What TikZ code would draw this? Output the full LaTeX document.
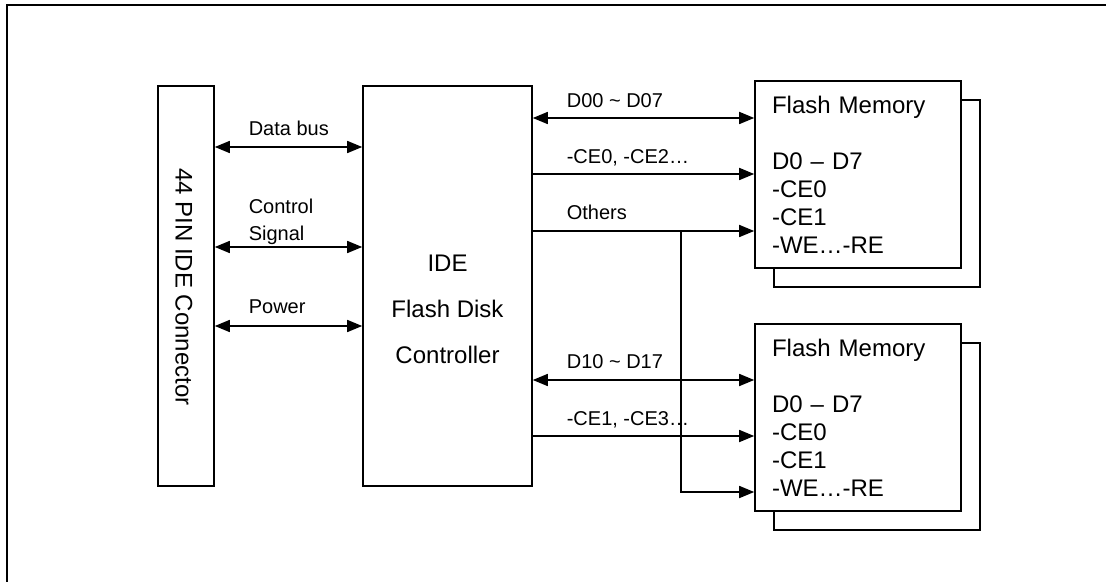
\documentclass[tikz,border=0pt]{standalone}
\usepackage{fontspec}
\setmainfont{Liberation Sans}
\usetikzlibrary{arrows.meta}

\begin{document}
\begin{tikzpicture}[x=0.5pt,y=-0.5pt,line width=0.8pt,
  >={Triangle[length=7.5pt,width=6pt]},
  box/.style={draw,rectangle,fill=white,inner sep=0pt},
  chip/.style={box,minimum width=103pt,minimum height=93.5pt,text width=86pt,
    inner xsep=8.5pt,align=left,font=\fontsize{12}{14}\selectfont},
  lbl/.style={anchor=base west,inner sep=0pt,font=\fontsize{10}{13.5}\selectfont}]
  \useasboundingbox (0,0) rectangle (1106,582);
  % frame, only top and left edge show
  \draw (7,582) -- (7,5) -- (1106,5);

  % connector and controller
  \node[box,minimum width=28pt,minimum height=200pt] (conn) at (186,286) {};
  \node[rotate=-90,inner sep=0pt,font=\fontsize{12}{14}\selectfont] (conntxt) at (184,287) {44 PIN IDE Connector};
  \node[box,minimum width=84.5pt,minimum height=200pt] (ctrl) at (447.5,286) {};
  \node[align=center,inner sep=0pt,font=\fontsize{12}{23}\selectfont] (ctrltxt) at (447.5,309) {IDE\\Flash Disk\\Controller};

  % flash chips, each with a second one behind
  \node[chip] (back1) at (877,193.5) {};
  \node[chip] (flash1) at (858,174.5) {Flash Memory\\[14pt]D0 – D7\\-CE0\\-CE1\\-WE…-RE};
  \node[chip] (back2) at (877,436.5) {};
  \node[chip] (flash2) at (858,417.5) {Flash Memory\\[14pt]D0 – D7\\-CE0\\-CE1\\-WE…-RE};

  % host side
  \draw[<->] (conn.east |- 0,147) -- (ctrl.west |- 0,147);
  \draw[<->] (conn.east |- 0,247) -- (ctrl.west |- 0,247);
  \draw[<->] (conn.east |- 0,326) -- (ctrl.west |- 0,326);
  \node[lbl] (databus) at (248,136) {Data bus};
  \node[lbl,align=left] (ctrlsig) at (248,241) {Control\\Signal};
  \node[lbl] (power) at (248,314) {Power};

  % flash side
  \draw[<->] (ctrl.east |- 0,118) -- (flash1.west |- 0,118);
  \draw[->] (ctrl.east |- 0,174) -- (flash1.west |- 0,174);
  \draw[->] (ctrl.east |- 0,231) -- (flash1.west |- 0,231);
  \draw[<->] (ctrl.east |- 0,380) -- (flash2.west |- 0,380);
  \draw[->] (ctrl.east |- 0,436) -- (flash2.west |- 0,436);
  \coordinate (tap) at (681,231);
  \draw[->] (tap) -- (tap |- 0,492) -- (flash2.west |- 0,492);
  \node[lbl] (lo) at (566,108) {D00 \textasciitilde{} D07};
  \node[lbl] (celo) at (566,164) {-CE0, -CE2…};
  \node[lbl] (others) at (566,220) {Others};
  \node[lbl] (hi) at (566,368) {D10 \textasciitilde{} D17};
  \node[lbl] (cehi) at (566,425) {-CE1, -CE3…};
\end{tikzpicture}
\end{document}
